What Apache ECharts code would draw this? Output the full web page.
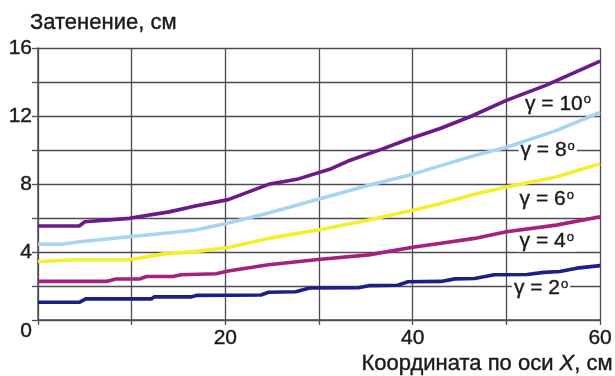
<!DOCTYPE html>
<html>
<head>
<meta charset="utf-8">
<script src="https://cdn.jsdelivr.net/npm/echarts@6/dist/echarts.min.js"></script>
<style>
html,body{margin:0;padding:0;background:#fff;}
#c{width:615px;height:376px;}
</style>
</head>
<body>
<div id="c"></div>
<script>
// ---- data ----
const gamma2 = [[0,1.04],[4.4,1.04],[5.1,1.24],[12.1,1.24],[12.4,1.36],[16.3,1.36],[17,1.45],[23.8,1.47],[24.6,1.63],[27.5,1.66],[29,1.88],[34.2,1.9],[35.3,2.02],[38.4,2.04],[39.5,2.25],[43,2.27],[44.5,2.42],[46.6,2.44],[48.7,2.66],[52.2,2.68],[54,2.8],[55.7,2.85],[57.5,3.05],[60,3.2]];
const gamma4 = [[0,2.27],[7.3,2.27],[8.3,2.41],[10.8,2.41],[11.6,2.56],[14.4,2.56],[15.3,2.66],[19,2.72],[20.3,2.88],[24.6,3.25],[29.9,3.56],[35.3,3.83],[40,4.28],[43,4.51],[46.6,4.8],[50,5.19],[55.3,5.58],[60,6.07]];
const gamma6 = [[0,3.44],[4.4,3.54],[9.75,3.54],[13.4,3.89],[16.8,4.02],[20.3,4.26],[24.6,4.8],[29.9,5.29],[35.3,5.88],[40,6.45],[43,6.85],[46.6,7.4],[50,7.82],[55.3,8.41],[60,9.2]];
const gamma8 = [[0,4.46],[2.6,4.46],[4.4,4.6],[9.75,4.9],[14,5.13],[16.8,5.29],[20.3,5.7],[24.6,6.3],[30,7.12],[35.3,7.92],[40,8.58],[43,9.08],[46.6,9.68],[50,10.16],[55.3,11.14],[60,12.21]];
const gamma10 = [[0,5.53],[4.4,5.53],[5,5.78],[9.75,5.98],[14,6.36],[16.8,6.7],[20.3,7.08],[24.6,7.98],[27.8,8.3],[31.3,8.9],[33.1,9.35],[36.7,10.05],[39.6,10.65],[43,11.28],[46.3,12.0],[50,12.92],[54.2,13.8],[60,15.23]];
const seriesNames = ['γ = 2', 'γ = 4', 'γ = 6', 'γ = 8', 'γ = 10'];
const labelPos = [[53.7,1.85],[54.3,4.65],[54.3,7.12],[54.4,9.98],[55.5,12.72]];
const yTickLabels = ['0','4','8','12','16'];
const xTickLabels = ['20','40','60'];
const titleText = 'Затенение, см';
const xTitleParts = ['Координата по оси ', 'X', ', см'];

const dataSets = [gamma2, gamma4, gamma6, gamma8, gamma10];
const colors = ['#1d1f86', '#a5207f', '#f3ef2b', '#a6d6ef', '#6c1a87'];

const chart = echarts.init(document.getElementById('c'), null, {renderer:'canvas'});
const font = 'Liberation Sans, Arial, sans-serif';
const txt = '#1a1a1a';
const thick = {textBorderColor: txt, textBorderWidth: 0.4};

const series = dataSets.map((d, i) => ({
  type: 'line',
  name: seriesNames[i],
  data: d,
  showSymbol: false,
  smooth: false,
  lineStyle: {color: colors[i], width: 3.6},
  z: 3,
  markPoint: {
    symbol: 'rect',
    symbolSize: 0,
    silent: true,
    z: 1,
    data: [{coord: labelPos[i], value: seriesNames[i]}],
    label: {
      show: true,
      position: 'inside',
      formatter: '{t|' + seriesNames[i] + '}{s|o}',
      backgroundColor: '#fff',
      padding: [0, 2, 0, 2],
      rich: {
        t: Object.assign({fontSize: 21, fontFamily: font, color: txt, verticalAlign: 'bottom', lineHeight: 21}, thick),
        s: Object.assign({fontSize: 13, fontFamily: font, color: txt, verticalAlign: 'top', lineHeight: 21, padding: [0,0,7,1]}, thick)
      }
    }
  }
}));

chart.setOption({
  animation: false,
  backgroundColor: '#fff',
  grid: {left: 38, right: 11, top: 48, bottom: 56, containLabel: false},
  title: [
    {text: titleText, left: 30, top: 12, padding: 0,
     textStyle: Object.assign({fontSize: 22, fontWeight: 'normal', fontFamily: font, color: txt}, thick)},
    {text: '{a|' + xTitleParts[0] + '}{b|' + xTitleParts[1] + '}{a|' + xTitleParts[2] + '}', right: 2, top: 353, padding: 0,
     textStyle: {fontWeight: 'normal', rich: {
       a: Object.assign({fontSize: 22, fontFamily: font, color: txt, fontWeight: 'normal'}, thick),
       b: Object.assign({fontSize: 22, fontFamily: font, color: txt, fontStyle: 'italic', fontWeight: 'normal'}, thick)
     }}}
  ],
  xAxis: {
    type: 'value', min: 0, max: 60, interval: 10,
    axisLine: {show: true, lineStyle: {color: '#4c4c58', width: 1.5}},
    axisTick: {show: true, length: 5, lineStyle: {color: '#4c4c58', width: 1.3}},
    splitLine: {show: true, lineStyle: {color: '#4c4c58', width: 1.3}},
    axisLabel: Object.assign({
      fontSize: 21, fontFamily: font, color: txt, margin: 8,
      formatter: v => xTickLabels.indexOf(String(v)) >= 0 ? String(v) : ''
    }, thick)
  },
  yAxis: {
    type: 'value', min: 0, max: 16, interval: 2,
    axisLine: {show: true, lineStyle: {color: '#4c4c58', width: 1.5}},
    axisTick: {show: true, length: 6, lineStyle: {color: '#4c4c58', width: 1.3}},
    splitLine: {show: true, lineStyle: {color: '#4c4c58', width: 1.3}},
    axisLabel: Object.assign({
      fontSize: 21, fontFamily: font, color: txt, margin: 6,
      formatter: v => {
        const s = String(v);
        if (yTickLabels.indexOf(s) < 0) return '';
        return v === 0 ? '{z|' + s + '}' : s;
      },
      rich: {z: Object.assign({fontSize: 21, fontFamily: font, color: txt, padding: [22, 0, 0, 0]}, thick)}
    }, thick)
  },
  series: series
});
</script>
</body>
</html>
